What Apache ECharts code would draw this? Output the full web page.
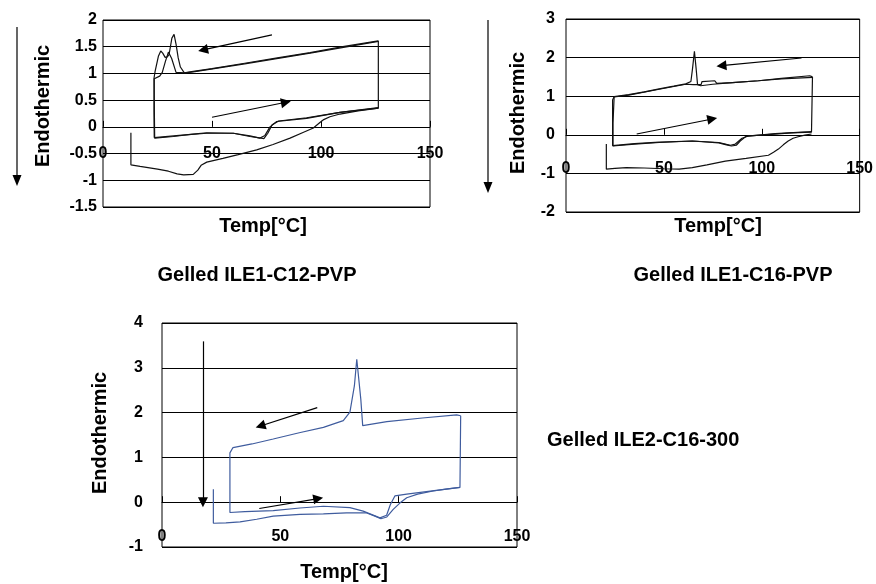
<!DOCTYPE html>
<html><head><meta charset="utf-8">
<script src="https://cdn.jsdelivr.net/npm/echarts@6/dist/echarts.min.js"></script>
<style>html,body{margin:0;padding:0;background:#fff}#c{width:876px;height:584px}</style>
</head><body><div id="c"></div>
<script>
// ---------- Data (Temp °C, heat flow) ----------
// Gelled ILE1-C12-PVP
const c12LoopA = [[126.3,1.61],[110,1.50],[95,1.39],[80,1.29],[65,1.19],[50,1.09],[41.4,1.04],[37.3,1.01],[35.5,1.12],[34.5,1.29],[33.5,1.55],[32.6,1.73],[31.6,1.66],[30.3,1.35],[29.5,1.31],[28.5,1.30],[27.4,1.38],[26.5,1.42],[25.4,1.32],[23.9,1.04],[23.4,0.91],[23.5,0.5],[23.7,-0.21],[32.3,-0.18],[40,-0.14],[47.6,-0.11],[59.8,-0.12],[67.4,-0.17],[72,-0.21],[74.3,-0.16],[76.6,0.0],[79.7,0.10],[93.4,0.16],[108.7,0.27],[126.3,0.35],[126.3,1.61]];
const c12LoopB = [[126.3,1.60],[95,1.38],[65,1.18],[41.4,1.03],[37.6,1.01],[33.5,1.02],[31.5,1.28],[30.0,1.40],[28.6,1.22],[27.2,1.02],[26.0,0.95],[23.5,0.90],[23.4,0.3],[23.5,-0.20],[35,-0.16],[47.6,-0.12],[59.8,-0.12],[67.4,-0.18],[72.5,-0.21],[73.8,-0.22],[75.6,-0.12],[77.6,0.04],[80.6,0.11],[93.4,0.17],[108.7,0.27],[126.3,0.36]];
const c12First = [[12.8,-0.11],[12.8,-0.71],[17,-0.74],[25,-0.79],[30,-0.83],[34,-0.88],[37,-0.90],[41.4,-0.89],[43.5,-0.81],[45.0,-0.72],[47.6,-0.66],[55,-0.59],[62,-0.52],[70.5,-0.43],[78,-0.33],[85.8,-0.21],[92,-0.10],[96.5,-0.02],[99.5,0.08],[101,0.13],[104.1,0.19],[108.7,0.24],[117,0.30],[126.3,0.35]];
const c12Arrows = [[[77.5,1.72],[45.9,1.44]],[[50.0,0.18],[83.9,0.46]]];

// Gelled ILE1-C16-PVP
const c16LoopA = [[125.9,1.50],[124.5,1.53],[110,1.46],[98.3,1.40],[85,1.35],[75,1.31],[68.8,1.27],[67.2,1.30],[66.5,1.70],[65.6,2.16],[64.6,1.70],[63.8,1.38],[61.2,1.32],[55,1.26],[47.6,1.19],[40,1.11],[32,1.04],[24.6,0.99],[24.0,0.95],[24.0,0.30],[24.0,-0.29],[35,-0.24],[47.6,-0.20],[64.5,-0.16],[78,-0.20],[82,-0.25],[84,-0.27],[86.5,-0.24],[89.9,-0.09],[93.2,-0.03],[106.8,0.02],[115,0.05],[125.4,0.07],[125.9,0.08],[125.9,1.50]];
const c16LoopB = [[125.9,1.49],[110,1.45],[98.3,1.40],[85,1.35],[77,1.33],[76,1.40],[69.5,1.38],[69,1.30],[65,1.30],[61.2,1.31],[47.6,1.18],[32,1.03],[24.5,0.98],[23.8,0.90],[23.8,-0.28],[35,-0.23],[47.6,-0.19],[64.5,-0.16],[78,-0.21],[82,-0.26],[84.5,-0.29],[87,-0.27],[89,-0.16],[92,-0.04],[106.8,0.03],[125.4,0.08]];
const c16First = [[20.6,-0.24],[20.6,-0.89],[25,-0.87],[30.8,-0.85],[40,-0.86],[50,-0.88],[57.8,-0.89],[64.5,-0.85],[72,-0.78],[81.4,-0.68],[92,-0.61],[103.4,-0.53],[106,-0.45],[108.5,-0.37],[111,-0.26],[113.5,-0.16],[116,-0.09],[118.6,-0.05],[122,-0.01],[125.4,0.02]];
const c16Arrows = [[[120.3,1.99],[79.4,1.79]],[[36.1,0.02],[74.7,0.41]]];

// Gelled ILE2-C16-300
const c300Loop = [[126.2,1.93],[124.5,1.95],[110,1.88],[95,1.80],[84.8,1.71],[84.0,2.30],[82.3,3.19],[81.3,2.60],[79.4,2.01],[76.6,1.82],[68.2,1.67],[58,1.55],[47,1.41],[38,1.30],[30,1.22],[29.4,1.19],[28.7,1.10],[28.7,-0.23],[35,-0.21],[47,-0.19],[58.3,-0.13],[68.2,-0.09],[79.4,-0.12],[85,-0.20],[92.1,-0.35],[94.9,-0.29],[96.5,-0.05],[98.4,0.14],[103.4,0.18],[115,0.26],[125.9,0.33],[126.2,0.35],[126.2,1.93]];
const c300First = [[21.7,0.29],[21.7,-0.47],[27,-0.46],[33,-0.44],[40,-0.38],[47,-0.31],[58.3,-0.27],[68.2,-0.26],[78,-0.24],[86.5,-0.24],[90,-0.31],[92.5,-0.37],[95,-0.33],[97.7,-0.16],[100.5,-0.02],[103.4,0.10],[108,0.18],[114.6,0.25],[120,0.29],[125.9,0.33]];
const c300Arrows = [[[65.6,2.11],[41.6,1.70]],[[41.1,-0.14],[66.0,0.08]],[[17.3,3.59],[17.3,0.0]]];

const titles = ['Gelled ILE1-C12-PVP','Gelled ILE1-C16-PVP','Gelled ILE2-C16-300'];
const yName = 'Endothermic';
const xName = 'Temp[°C]';

// ---------- Chart ----------
const FONT = '"Liberation Sans", Arial, sans-serif';
const chart = echarts.init(document.getElementById('c'), null, {renderer:'canvas'});

const grids = [
  {left:103, top:20, width:327, height:187},
  {left:566, top:19, width:296, height:193},
  {left:162, top:323, width:355, height:224}
].map(g => Object.assign({show:true, borderColor:'#000', borderWidth:1, containLabel:false}, g));

const yRanges = [[-1.5,2,0.5,6],[-2,3,1,11],[-1,4,1,19]];
const xLabelMargins = [-61,-51,-18];

// tick axes on the zero line (ticks only)
const xTickAxes = [0,1,2].map(i => ({
  type:'value', gridIndex:i, min:0, max:150, interval:50,
  axisLine:{show:true, onZero:true, lineStyle:{color:'#000', width:1}},
  axisTick:{show:true, inside:true, length:6, lineStyle:{color:'#000', width:1}},
  axisLabel:{show:false},
  splitLine:{show:false}
}));
// label axes (labels only), lifted into the plot
const xLabelAxes = [0,1,2].map(i => ({
  type:'value', gridIndex:i, min:0, max:150, interval:50, position:'bottom',
  axisLine:{show:false, onZero:false}, axisTick:{show:false},
  axisLabel:{margin:xLabelMargins[i], color:'#000', fontSize:16, fontWeight:'bold', fontFamily:FONT},
  splitLine:{show:false}
}));
const yAxes = [0,1,2].map(i => ({
  type:'value', gridIndex:i, min:yRanges[i][0], max:yRanges[i][1], interval:yRanges[i][2],
  axisLine:{show:false}, axisTick:{show:false},
  axisLabel:{margin:yRanges[i][3], color:'#000', fontSize:16, fontWeight:'bold', fontFamily:FONT},
  splitLine:{show:true, lineStyle:{color:'#000', width:1}}
}));

function lineSeries(data, gi, color, arrows){
  const s = {
    type:'line', xAxisIndex:gi, yAxisIndex:gi, data:data,
    showSymbol:false, symbol:'none', silent:true, animation:false,
    lineStyle:{color:color, width:1.2}
  };
  if (arrows) {
    s.markLine = {
      silent:true, animation:false, symbol:['none','triangle'], symbolSize:10,
      label:{show:false}, emphasis:{disabled:true},
      itemStyle:{color:'#000'},
      lineStyle:{color:'#000', width:1.2, type:'solid'},
      data: arrows.map(a => [{coord:a[0]},{coord:a[1]}])
    };
  }
  return s;
}

const BLK = '#111', BLUE = '#3f5c9e';
const series = [
  lineSeries(c12First, 0, BLK),
  lineSeries(c12LoopB, 0, BLK),
  lineSeries(c12LoopA, 0, BLK, c12Arrows),
  lineSeries(c16First, 1, BLK),
  lineSeries(c16LoopB, 1, BLK),
  lineSeries(c16LoopA, 1, BLK, c16Arrows),
  lineSeries(c300First, 2, BLUE),
  lineSeries(c300Loop, 2, BLUE, c300Arrows)
];

function txt(s, x, y, size, rot, align){
  return {type:'text', x:x, y:y, rotation:rot||0, silent:true,
    style:{text:s, font:'bold '+size+'px '+FONT, fill:'#000',
      align:align||'center', verticalAlign:'middle', textAlign:align||'center', textVerticalAlign:'middle'}};
}
function vArrow(x, y1, y2){
  return [
    {type:'line', silent:true, shape:{x1:x, y1:y1, x2:x, y2:y2-8}, style:{stroke:'#000', lineWidth:1.2}},
    {type:'polygon', silent:true, shape:{points:[[x-4.5,y2-11],[x+4.5,y2-11],[x,y2]]}, style:{fill:'#000'}}
  ];
}

const graphic = [
  txt(yName, 43.5, 106, 20, Math.PI/2),
  txt(xName, 263, 226, 20),
  txt(titles[0], 257, 275, 20),
  txt(yName, 518.5, 113, 20, Math.PI/2),
  txt(xName, 718, 226, 20),
  txt(titles[1], 733, 275, 20),
  txt(yName, 100, 433, 20, Math.PI/2),
  txt(xName, 344, 572, 20),
  txt(titles[2], 547, 440, 20, 0, 'left')
].concat(vArrow(17, 27, 186), vArrow(488, 20, 193));

chart.setOption({
  animation:false,
  backgroundColor:'#fff',
  grid: grids,
  xAxis: xTickAxes.concat(xLabelAxes),
  yAxis: yAxes,
  series: series,
  graphic: graphic
});
</script></body></html>
